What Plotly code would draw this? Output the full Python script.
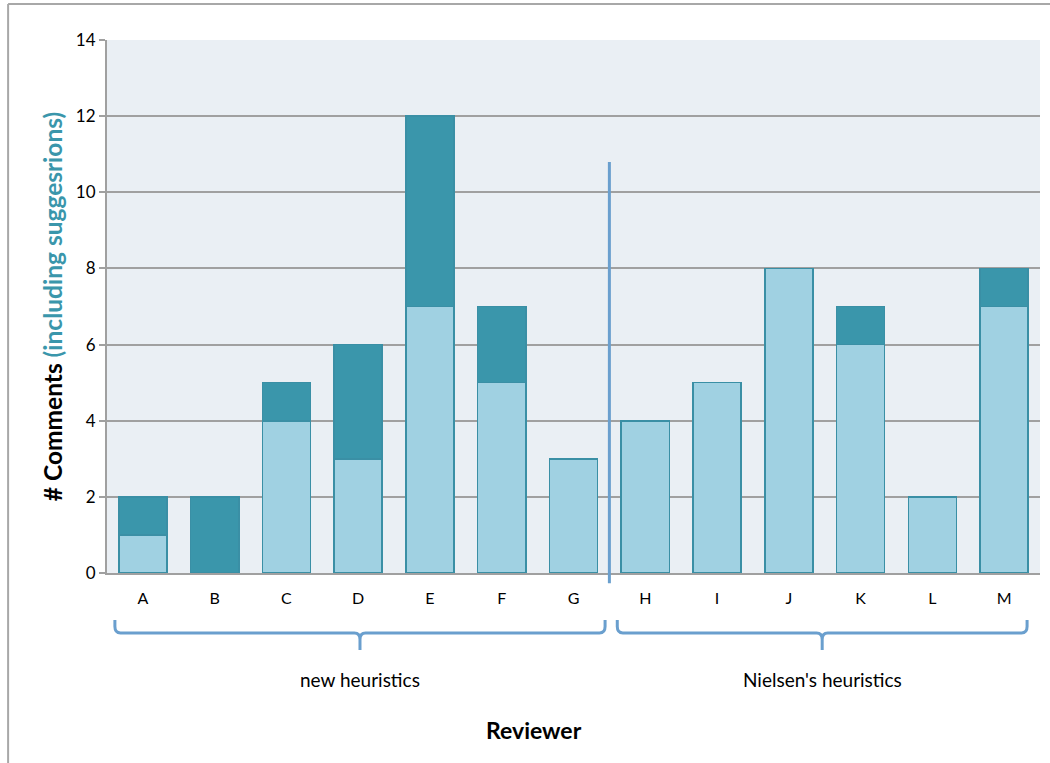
import plotly.graph_objects as go

reviewers = ["A", "B", "C", "D", "E", "F", "G", "H", "I", "J", "K", "L", "M"]
comments = [1, 0, 4, 3, 7, 5, 3, 4, 5, 8, 6, 2, 7]
suggestions = [1, 2, 1, 3, 5, 2, 0, 0, 0, 0, 1, 0, 1]
groups = [("new heuristics", 0, 6), ("Nielsen's heuristics", 7, 12)]
y_ticks = [0, 2, 4, 6, 8, 10, 12, 14]

LIGHT = "#A0D1E2"
DARK = "#3A96AB"
EDGE = "#3A8FA5"
BLUE = "#6A9FCE"
FONT = "Lato"

n = len(reviewers)
def px(i):
    return (i + 0.5) / n

def bracket_span(a, b):
    right_pad = 0.44 if b < n - 1 else 0.32
    return px(a - 0.39), px(b + right_pad)

fig = go.Figure()
fig.add_trace(go.Bar(x=reviewers, y=comments, marker=dict(color=LIGHT, line=dict(color=EDGE, width=1.6)), name="comments"))
fig.add_trace(go.Bar(x=reviewers, y=suggestions, marker=dict(color=DARK, line=dict(color=EDGE, width=1.6)), name="suggestions"))

shapes = []
# divider between groups
div_x = px((groups[0][2] + groups[1][1]) / 2)
shapes.append(dict(type="line", xref="paper", yref="paper", x0=div_x, x1=div_x,
                   y0=-0.019, y1=0.771, line=dict(color=BLUE, width=3)))

# curly brackets
yt, yh, yb = -0.088, -0.1126, -0.1445
rx, ry = 0.006, 0.012
for label, a, b in groups:
    x0, x1 = bracket_span(a, b)
    xc = (x0 + x1) / 2
    path = (f"M {x0},{yt} L {x0},{yh+ry} Q {x0},{yh} {x0+rx},{yh} "
            f"L {xc-rx},{yh} Q {xc},{yh} {xc},{yh-ry} L {xc},{yb} "
            f"M {xc},{yh-ry} Q {xc},{yh} {xc+rx},{yh} "
            f"L {x1-rx},{yh} Q {x1},{yh} {x1},{yh+ry} L {x1},{yt}")
    shapes.append(dict(type="path", xref="paper", yref="paper", path=path,
                       line=dict(color=BLUE, width=3)))

# outer frame
shapes.append(dict(type="line", xref="paper", yref="paper", x0=-0.106, x1=1.02,
                   y0=1.0675, y1=1.0675, line=dict(color="#A8A8A8", width=2)))
shapes.append(dict(type="line", xref="paper", yref="paper", x0=-0.106, x1=-0.106,
                   y0=-0.36, y1=1.0675, line=dict(color="#A8A8A8", width=2)))

annotations = []
for label, a, b in groups:
    x0, x1 = bracket_span(a, b)
    annotations.append(dict(text=label, xref="paper", yref="paper", x=(x0 + x1) / 2,
                            y=-0.2, xanchor="center", yanchor="middle", showarrow=False,
                            font=dict(size=19, color="black", family=FONT)))
annotations.append(dict(text="<b>Reviewer</b>", xref="paper", yref="paper", x=0.458, y=-0.295,
                        xanchor="center", yanchor="middle", showarrow=False,
                        font=dict(size=23, color="black", family=FONT)))

fig.update_layout(
    barmode="stack",
    bargap=0.33,
    width=1050, height=763,
    margin=dict(l=107, r=10, t=40, b=190),
    paper_bgcolor="white",
    plot_bgcolor="#EAEFF4",
    showlegend=False,
    font=dict(family=FONT, color="black", size=16),
    shapes=shapes,
    annotations=annotations,
    xaxis=dict(type="category", showgrid=False, showline=True, linecolor="#A0A0A0", linewidth=2,
               ticks="", tickfont=dict(size=16, color="black", family=FONT), range=[-0.5, n - 0.5],
               ticklabelstandoff=10, fixedrange=True),
    yaxis=dict(range=[0, 14], tickvals=y_ticks, showgrid=True, gridcolor="#A0A0A0", gridwidth=1.5,
               showline=True, linecolor="#A0A0A0", linewidth=2, ticks="outside", ticklen=6,
               tickcolor="#A0A0A0", tickwidth=1.5, zeroline=False,
               tickfont=dict(size=17, color="black", family=FONT),
               title=dict(text="<b># Comments </b><b><span style='color:#3A96AB'>(including suggesrions)</span></b>",
                          font=dict(size=24.5, family=FONT, color="black"), standoff=6),
               fixedrange=True),
)

fig.write_html("out.html", config={"displayModeBar": False},
               post_script="document.body.style.margin='0';")
